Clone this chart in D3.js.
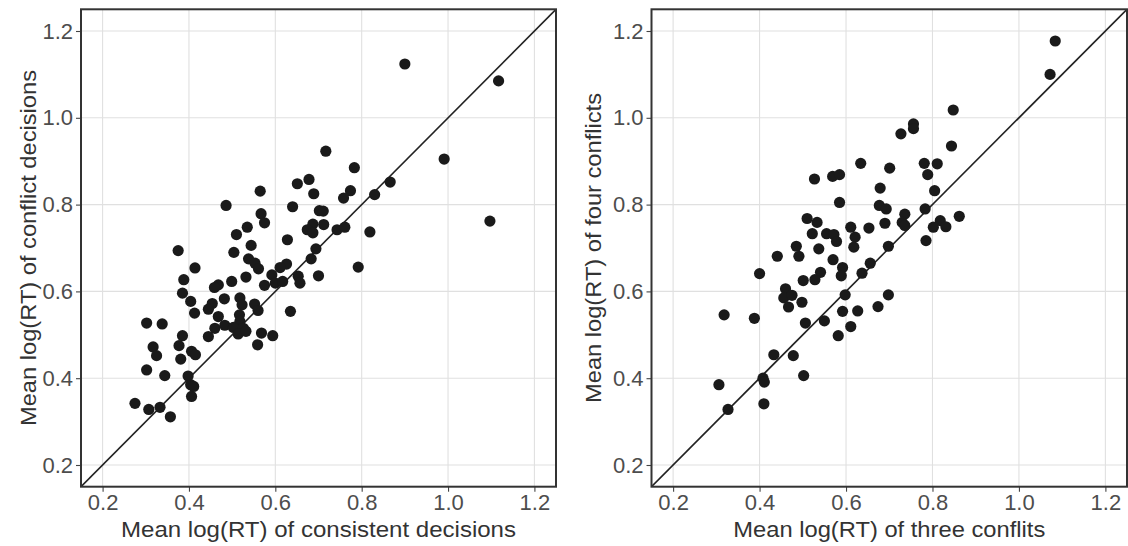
<!DOCTYPE html>
<html>
<head>
<meta charset="utf-8">
<script src="https://cdn.jsdelivr.net/npm/d3@7"></script>
<style>
  html, body { margin: 0; padding: 0; background: #fff; }
  svg { display: block; font-family: "Liberation Sans", Arial, sans-serif; }
</style>
</head>
<body>
<svg id="chart" width="1128" height="546"></svg>
<script>
// ---- data ----
const tickValues = [0.2, 0.4, 0.6, 0.8, 1.0, 1.2];
const axisDomain = [0.15, 1.25];

const leftXLabel = "Mean log(RT) of consistent decisions";
const leftYLabel = "Mean log(RT) of conflict decisions";
const rightXLabel = "Mean log(RT) of three conflits";
const rightYLabel = "Mean log(RT) of four conflicts";

// consistent (x) vs conflict (y)
const consistentRT = [0.565,0.486,0.567,0.575,0.535,0.510,0.375,0.504,0.544,0.538,0.553,0.561,0.414,0.388,0.532,0.499,0.468,0.459,0.592,0.575,0.385,0.404,0.482,0.518,0.454,0.445,0.523,0.413,0.552,0.560,0.468,0.517,0.518,0.302,0.338,0.460,0.483,0.503,0.526,0.514,0.532,0.568,0.594,0.445,0.385,0.377,0.317,0.325,0.406,0.415,0.559,0.381,0.302,0.344,0.398,0.404,0.411,0.406,0.275,0.307,0.333,0.357,
  0.717,0.783,0.678,0.651,0.866,0.689,0.774,0.758,0.830,0.640,0.702,0.711,0.687,0.674,0.687,0.712,0.743,0.761,0.819,0.628,0.694,0.683,0.626,0.611,0.653,0.657,0.700,0.792,0.600,0.617,0.635,
  0.900,1.117,0.991,1.097];
const conflictRT = [0.831,0.798,0.779,0.758,0.748,0.731,0.694,0.690,0.706,0.675,0.665,0.652,0.654,0.627,0.633,0.623,0.615,0.609,0.638,0.614,0.596,0.577,0.583,0.585,0.572,0.559,0.569,0.550,0.571,0.556,0.542,0.546,0.531,0.527,0.525,0.515,0.522,0.517,0.515,0.502,0.508,0.504,0.498,0.496,0.498,0.475,0.472,0.452,0.462,0.454,0.477,0.444,0.419,0.406,0.405,0.385,0.381,0.358,0.342,0.328,0.333,0.311,
  0.923,0.885,0.858,0.848,0.852,0.825,0.832,0.815,0.823,0.795,0.786,0.785,0.755,0.742,0.735,0.754,0.742,0.748,0.737,0.719,0.698,0.675,0.663,0.655,0.635,0.619,0.636,0.656,0.619,0.623,0.554,
  1.124,1.085,0.905,0.762];

// three conflicts (x) vs four conflicts (y)
const threeRT = [0.510,0.533,0.522,0.555,0.572,0.578,0.485,0.491,0.537,0.441,0.570,0.400,0.541,0.528,0.501,0.460,0.456,0.475,0.467,0.498,0.318,0.388,0.506,0.550,0.582,0.433,0.478,0.408,0.411,0.502,0.306,0.327,0.410,
  0.848,0.756,0.756,0.727,0.844,0.634,0.781,0.811,0.701,0.789,0.527,0.569,0.585,0.679,0.805,0.585,0.677,0.693,0.783,0.736,0.862,0.730,0.736,0.818,0.831,0.802,0.611,0.653,0.690,0.621,0.618,0.785,0.698,0.656,0.592,0.589,0.637,0.598,0.698,0.592,0.627,0.674,0.611,
  1.084,1.072];
const fourRT = [0.768,0.759,0.733,0.733,0.731,0.715,0.704,0.681,0.698,0.681,0.673,0.641,0.644,0.627,0.625,0.606,0.585,0.591,0.564,0.575,0.546,0.538,0.527,0.532,0.498,0.454,0.452,0.400,0.391,0.406,0.385,0.328,0.341,
  1.018,0.986,0.975,0.963,0.935,0.895,0.895,0.894,0.884,0.869,0.859,0.865,0.869,0.838,0.832,0.805,0.798,0.790,0.790,0.778,0.773,0.759,0.752,0.763,0.749,0.748,0.748,0.746,0.757,0.725,0.702,0.717,0.704,0.665,0.655,0.636,0.642,0.592,0.592,0.554,0.555,0.565,0.519,
  1.177,1.100];

// ---- drawing ----
const svg = d3.select("#chart");

function panel(id, xRange, yRange, xv, yv, xLabel, yLabel, yTitleX, xTitleLen, yTitleLen) {
  const x = d3.scaleLinear().domain(axisDomain).range(xRange);
  const y = d3.scaleLinear().domain(axisDomain).range(yRange);
  const g = svg.append("g");
  const [x0, x1] = xRange, [y0, y1] = [yRange[1], yRange[0]];

  g.append("clipPath").attr("id", id).append("rect")
    .attr("x", x0).attr("y", y0).attr("width", x1 - x0).attr("height", y1 - y0);

  // grid
  g.append("g").selectAll("line").data(tickValues).join("line")
    .attr("x1", d => x(d)).attr("x2", d => x(d)).attr("y1", y0).attr("y2", y1)
    .attr("stroke", "#e0e0e0").attr("stroke-width", 1.1);
  g.append("g").selectAll("line").data(tickValues).join("line")
    .attr("y1", d => y(d)).attr("y2", d => y(d)).attr("x1", x0).attr("x2", x1)
    .attr("stroke", "#e0e0e0").attr("stroke-width", 1.1);

  // identity line
  g.append("line").attr("clip-path", `url(#${id})`)
    .attr("x1", x(axisDomain[0])).attr("y1", y(axisDomain[0]))
    .attr("x2", x(axisDomain[1])).attr("y2", y(axisDomain[1]))
    .attr("stroke", "#222").attr("stroke-width", 1.6);

  // points
  g.append("g").selectAll("circle").data(xv.map((v, i) => [v, yv[i]])).join("circle")
    .attr("cx", d => x(d[0])).attr("cy", d => y(d[1])).attr("r", 5.6)
    .attr("fill", "#1a1a1a");

  // axes
  const fmt = d3.format(".1f");
  const xa = g.append("g").attr("transform", `translate(0,${y1})`)
    .call(d3.axisBottom(x).tickValues(tickValues).tickFormat(fmt).tickSize(5).tickPadding(3));
  const ya = g.append("g").attr("transform", `translate(${x0},0)`)
    .call(d3.axisLeft(y).tickValues(tickValues).tickFormat(fmt).tickSize(5).tickPadding(3));
  [xa, ya].forEach(a => {
    a.select(".domain").remove();
    a.selectAll(".tick line").attr("stroke", "#444").attr("stroke-width", 1.1);
    a.selectAll(".tick text").attr("fill", "#4d4d4d").attr("font-size", 22)
      .attr("font-family", "Liberation Sans, Arial, sans-serif");
  });

  // border
  g.append("rect").attr("x", x0).attr("y", y0).attr("width", x1 - x0).attr("height", y1 - y0)
    .attr("fill", "none").attr("stroke", "#333").attr("stroke-width", 2);

  // titles
  g.append("text").attr("x", (x0 + x1) / 2).attr("y", 537)
    .attr("text-anchor", "middle").attr("font-size", 22).attr("fill", "#333")
    .attr("textLength", xTitleLen).attr("lengthAdjust", "spacingAndGlyphs")
    .text(xLabel);
  g.append("text")
    .attr("transform", `translate(${yTitleX},${(y0 + y1) / 2}) rotate(-90)`)
    .attr("text-anchor", "middle").attr("font-size", 22).attr("fill", "#333")
    .attr("textLength", yTitleLen).attr("lengthAdjust", "spacingAndGlyphs")
    .text(yLabel);
}

panel("clipL", [81, 556], [486.7, 9.3], consistentRT, conflictRT, leftXLabel, leftYLabel, 36, 395, 356);
panel("clipR", [651.5, 1127], [486.7, 9.3], threeRT, fourRT, rightXLabel, rightYLabel, 601, 312, 310);
</script>
</body>
</html>
